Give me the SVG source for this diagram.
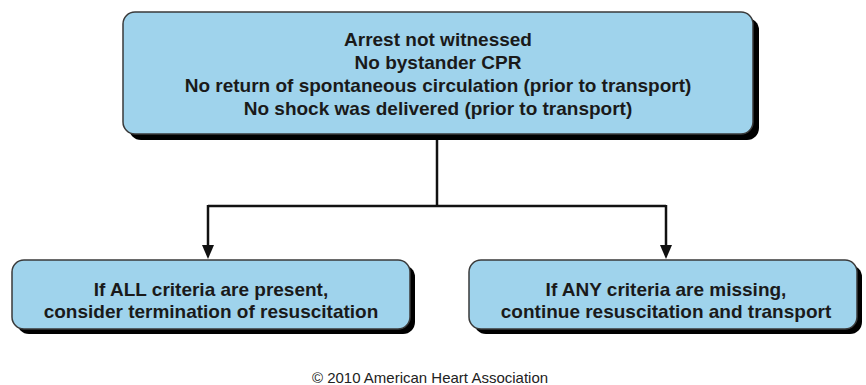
<svg xmlns="http://www.w3.org/2000/svg" width="866" height="385" viewBox="0 0 866 385">
<defs>
<style>
.shadow{fill:#000;}
.box{fill:#9fd3ec;stroke:#3a3a3a;stroke-width:1.5;}
.t{font-family:"Liberation Sans",Arial,sans-serif;font-weight:bold;font-size:19px;fill:#1a1a1a;text-anchor:middle;}
.c{font-family:"Liberation Sans",Arial,sans-serif;font-size:15px;fill:#222;text-anchor:middle;}
.ln{stroke:#111;stroke-width:2.5;fill:none;}
.ah{fill:#111;}
</style>
</defs>
<rect width="866" height="385" fill="#fff"/>
<g id="connectors">
<line class="ln" x1="437" y1="140" x2="437" y2="206"/>
<line class="ln" x1="208" y1="206" x2="666" y2="206"/>
<line class="ln" x1="208" y1="205" x2="208" y2="246"/>
<line class="ln" x1="666" y1="205" x2="666" y2="246"/>
<path class="ah" d="M202,245 L214,245 L208,259 Z"/>
<path class="ah" d="M660,245 L672,245 L666,259 Z"/>
</g>
<g id="criteria">
<rect class="shadow" x="129" y="18" width="630" height="122" rx="12"/>
<rect class="box" x="123" y="12" width="630" height="122" rx="12"/>
<text class="t" x="438" y="46">Arrest not witnessed</text>
<text class="t" x="438" y="69">No bystander CPR</text>
<text class="t" x="438" y="92">No return of spontaneous circulation (prior to transport)</text>
<text class="t" x="438" y="115">No shock was delivered (prior to transport)</text>
</g>
<g id="all-present">
<rect class="shadow" x="17" y="265" width="398" height="69" rx="12"/>
<rect class="box" x="12" y="260" width="398" height="69" rx="12"/>
<text class="t" x="211" y="296">If ALL criteria are present,</text>
<text class="t" x="211" y="318">consider termination of resuscitation</text>
</g>
<g id="any-missing">
<rect class="shadow" x="474" y="265" width="388" height="69" rx="12"/>
<rect class="box" x="469" y="260" width="388" height="69" rx="12"/>
<text class="t" x="666" y="296">If ANY criteria are missing,</text>
<text class="t" x="666" y="318">continue resuscitation and transport</text>
</g>
<text class="c" x="430" y="383">© 2010 American Heart Association</text>
</svg>
